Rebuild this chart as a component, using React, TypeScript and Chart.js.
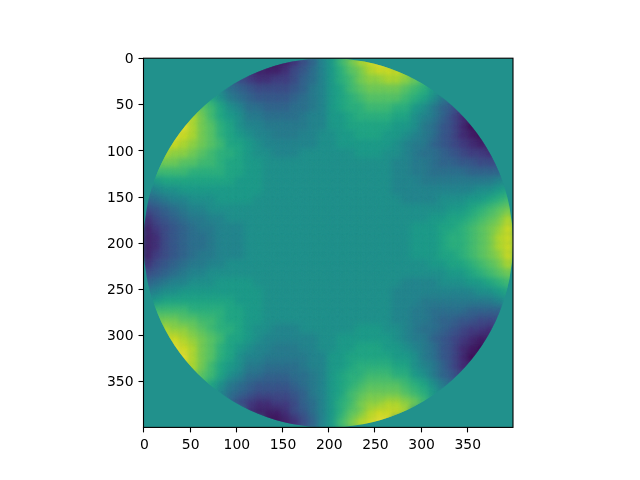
import React, { useEffect, useRef } from "react";
import { Chart, registerables } from "chart.js";

Chart.register(...registerables);

const tickValues = [0, 50, 100, 150, 200, 250, 300, 350];
const imageSize = 400;
const cellSize = 10;
// one colour per level, a (low) to u (high)
const levelColors = [
  "#440154", "#471365", "#482475", "#463480", "#414487", "#3b528b", "#355f8d",
  "#2f6c8e", "#2a788e", "#25848e", "#21918c", "#1e9c89", "#22a884", "#2fb47c",
  "#44bf70", "#5ec962", "#7ad151", "#9bd93c", "#bddf26", "#dfe318", "#fde725",
];
// levels, one row per 10 image rows (left half, right half)
const levelRows = [
  "kkkkkkkkkkkkkaabcegj loqstuukkkkkkkkkkkkk",
  "kkkkkkkkkkkcbbbcefhj lnpqstttskkkkkkkkkkk",
  "kkkkkkkkkgedccddeghj lnoqrrssrqokkkkkkkkk",
  "kkkkkkkljhgfeeeefgij lmopqqqqponljkkkkkkk",
  "kkkkkqomkihgffffghij lmnopppponmkigekkkkk",
  "kkkksrpomkjhhggghhij lmnnooonnlkigfdckkkk",
  "kkkutsqomlkiihhhhijj llmnnnnmmkjigecbakkk",
  "kkuuusqpnmkjjiiiiijj llmmmmmllkihfecaaakk",
  "kuuutsqpnmlkjjiiijjk kllmmmllkjihfecbaaak",
  "ksttsrqpommlkjjjjjjk kllllllkjiigfedcbbck",
  "qrsrrqponnmlkkjjjkkk kkklllkkjihhgfeddcde",
  "pqqqppoonmmllkkkkkkk kkkkkkkjjiihggffeeef",
  "noooonnnnmmllkkkkkkk kkkkkkkjjiihhhhggggh",
  "klmmmmmmmmlllkkkkkkk kkkkkkkjjjiiiiiiiijk",
  "ijkklllllllllkkkkkkk kkkkkkkjjjjjjjjjkklm",
  "ghijjkkkllllkkkkkkkk kkkkkkkkjjjjkkkllmno",
  "efghijjkkkkkkkkkkkkk kkkkkkkkkkkkkllmnopq",
  "cefghiijjkkkkkkkkkkk kkkkkkkkkkkllmmnopqs",
  "bdefghiijjjkkkkkkkkk kkkkkkkkklllmmnopqrt",
  "bcefghhijjjkkkkkkkkk kkkkkkkkklllmnnopqst",
  "bcefghhijjjkkkkkkkkk kkkkkkkkklllmnnopqst",
  "bdefghiijjjkkkkkkkkk kkkkkkkkklllmmnopqrt",
  "cefghiijjkkkkkkkkkkk kkkkkkkkkkkllmmnopqs",
  "efghijjkkkkkkkkkkkkk kkkkkkkkkkkkkllmnopq",
  "ghijjkkkllllkkkkkkkk kkkkkkkkjjjjkkkllmno",
  "ijkklllllllllkkkkkkk kkkkkkkjjjjjjjjjkklm",
  "klmmmmmmmmlllkkkkkkk kkkkkkkjjjiiiiiiiijk",
  "noooonnnnmmllkkkkkkk kkkkkkkjjiihhhhggggh",
  "pqqqppoonmmllkkkkkkk kkkkkkkjjiihggffeeef",
  "qrsrrqponnmlkkjjjkkk kkklllkkjihhgfeddcde",
  "ksttsrqpommlkjjjjjjk kllllllkjiigfedcbbck",
  "kuuutsqpnmlkjjiiijjk kllmmmllkjihfecbaaak",
  "kkuuusqpnmkjjiiiiijj llmmmmmllkihfecaaakk",
  "kkkutsqomlkiihhhhijj llmnnnnmmkjigecbakkk",
  "kkkksrpomkjhhggghhij lmnnooonnlkigfdckkkk",
  "kkkkkqomkihgffffghij lmnopppponmkigekkkkk",
  "kkkkkkkljhgfeeeefgij lmopqqqqponljkkkkkkk",
  "kkkkkkkkkgedccddeghj lnoqrrssrqokkkkkkkkk",
  "kkkkkkkkkkkcbbbcefhj lnpqstttskkkkkkkkkkk",
  "kkkkkkkkkkkkkaabcegj loqstuukkkkkkkkkkkkk",
];

const cells: { x: number; y: number; level: number }[] = [];
levelRows.forEach((row, r) => {
  row.replace(" ", "").split("").forEach((ch, c) => {
    cells.push({
      x: c * cellSize + cellSize / 2 - 0.5,
      y: r * cellSize + cellSize / 2 - 0.5,
      level: ch.charCodeAt(0) - 97,
    });
  });
});

const discPlugin = {
  id: "disc",
  beforeDatasetsDraw(chart: any) {
    const { ctx, chartArea: a } = chart;
    ctx.save();
    ctx.fillStyle = levelColors[10];
    ctx.fillRect(a.left, a.top, a.width, a.height);
    ctx.restore();
  },
  beforeDatasetDraw(chart: any) {
    const { ctx, scales } = chart;
    const mid = (imageSize - 1) / 2;
    const cx = scales.x.getPixelForValue(mid);
    const cy = scales.y.getPixelForValue(mid);
    const rad = Math.abs(scales.x.getPixelForValue(mid + imageSize / 2) - cx);
    ctx.save();
    ctx.beginPath();
    ctx.arc(cx, cy, rad, 0, Math.PI * 2);
    ctx.clip();
    ctx.filter = "blur(3.5px)";
  },
  afterDatasetDraw(chart: any) {
    chart.ctx.restore();
  },
  afterDraw(chart: any) {
    const { ctx, chartArea: a } = chart;
    ctx.save();
    ctx.strokeStyle = "#000";
    ctx.lineWidth = 1.1;
    ctx.strokeRect(a.left, a.top, a.width, a.height);
    ctx.restore();
  },
};

const tickFont = { family: "'DejaVu Sans'", size: 13.9 };

function axis(reverse: boolean, labelOffset: number, fit: (s: any) => void) {
  return {
    type: "linear",
    reverse,
    min: -0.5,
    max: imageSize - 0.5,
    afterBuildTicks(s: any) {
      s.ticks = tickValues.map((value) => ({ value }));
    },
    afterFit: fit,
    grid: { drawOnChartArea: false, drawTicks: true, tickLength: 5, tickColor: "#000", tickWidth: 1.1 },
    border: { display: false },
    ticks: { font: tickFont, color: "#000", padding: 5, labelOffset, maxRotation: 0, autoSkip: false, callback: (v: any) => String(v) },
  };
}

export default function App() {
  const ref = useRef<HTMLCanvasElement>(null);
  useEffect(() => {
    const chart = new Chart(ref.current as any, {
      type: "scatter",
      data: {
        datasets: [
          {
            data: cells as any,
            pointStyle: "rect",
            pointRadius: 8,
            pointBorderWidth: 0,
            pointBackgroundColor: cells.map((c) => levelColors[c.level]),
          },
        ],
      },
      options: {
        animation: false,
        responsive: false,
        layout: { padding: { top: 58.2, right: 127, left: 0, bottom: 0 } },
        plugins: { legend: { display: false }, tooltip: { enabled: false }, title: { display: false } },
        scales: {
          x: axis(false, 0.5, (s: any) => { s.height = 52.6; }),
          y: axis(true, 1, (s: any) => { s.width = 143.5; }),
        },
      } as any,
      plugins: [discPlugin],
    });
    return () => chart.destroy();
  }, []);
  return (
    <div style={{ position: "fixed", left: 0, top: 0, width: 640, height: 480, background: "#fff" }}>
      <canvas ref={ref} width={640} height={480} style={{ display: "block" }} />
    </div>
  );
}
